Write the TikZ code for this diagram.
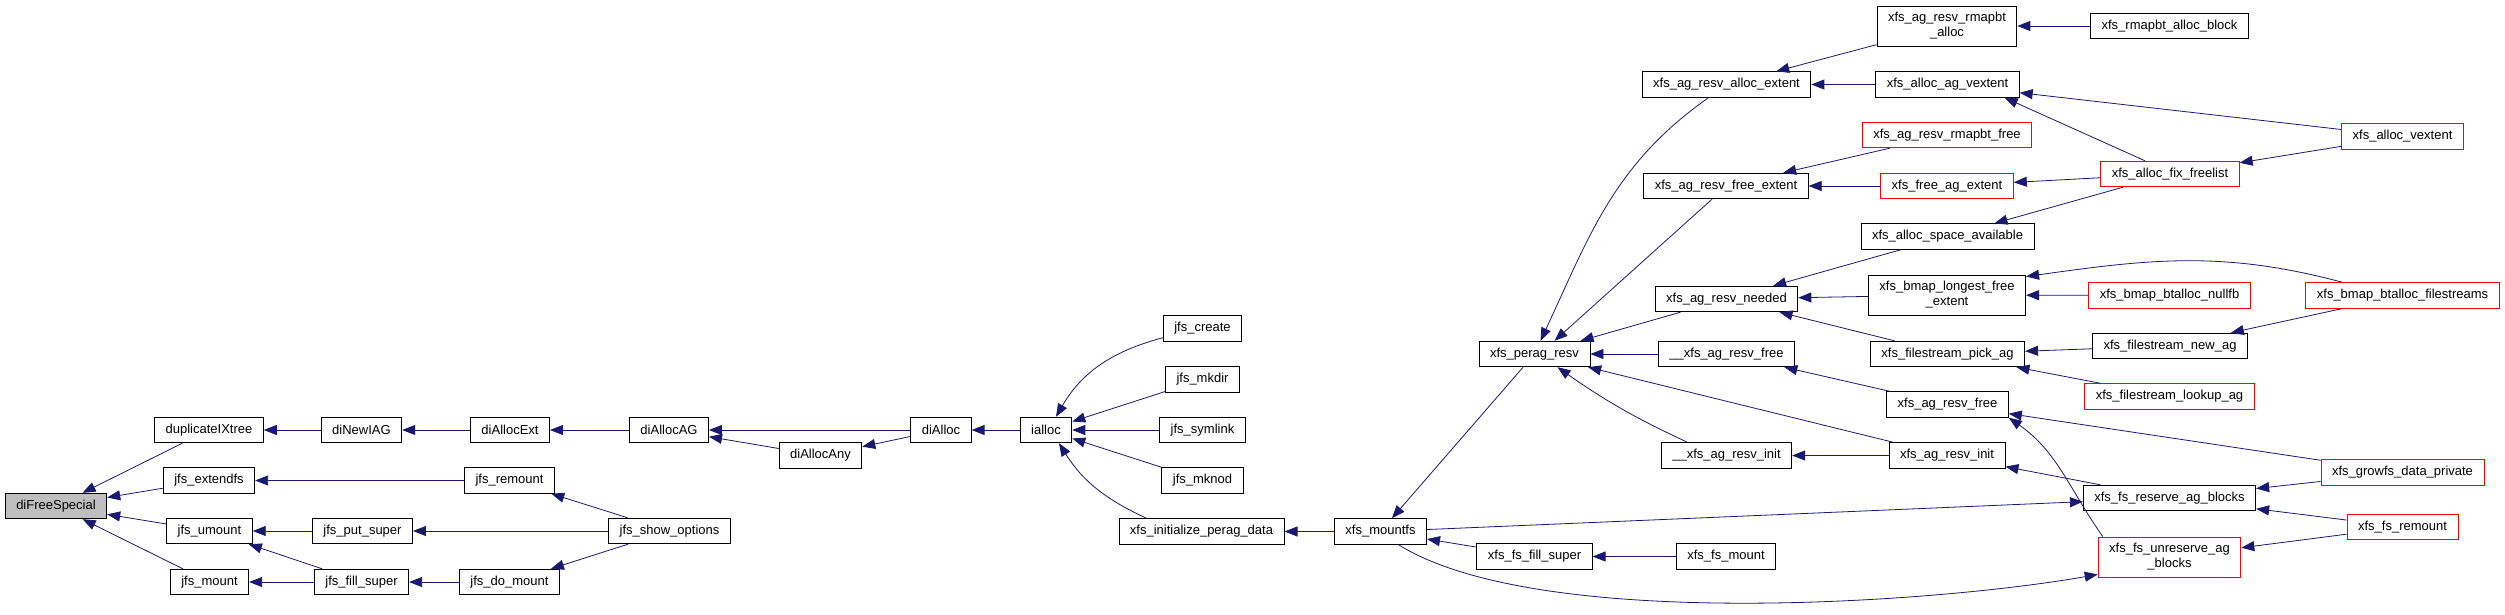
\documentclass[tikz,border=0pt]{standalone}
\usepackage{fontspec}
\setmainfont{Liberation Sans}
\usetikzlibrary{arrows.meta}

\definecolor{edgeblue}{HTML}{191970}
\definecolor{nodered}{HTML}{FF0000}
\definecolor{nodegray}{HTML}{BFBFBF}

\begin{document}
\begin{tikzpicture}[x=1pt, y=1pt]
  \tikzset{
    fn_node/.style={rectangle, draw=black, fill=white, line width=0.9pt, inner xsep=11pt, inner ysep=2pt, minimum height=25.5pt, font=\fontsize{13}{15}\selectfont},
    red_node/.style={fn_node, draw=nodered},
    gray_node/.style={fn_node, fill=nodegray},
    two_lines/.style={align=center, minimum height=40pt},
    call_edge/.style={draw=edgeblue, line width=0.8pt, {Triangle[length=13pt, width=10pt]}-}
  }

  % Fondo y caja
  \fill[white] (0,0) rectangle (2505,-615);
  \useasboundingbox (0,0) rectangle (2505,-615);

  % Nodo raiz
  \node[gray_node] (diFreeSpecial) at (56,-506) {diFreeSpecial};

  % Funciones jfs / diAlloc
  \node[fn_node] (duplicateIXtree) at (209,-430) {duplicateIXtree};
  \node[fn_node] (jfs_extendfs) at (209,-480.5) {jfs\_extendfs};
  \node[fn_node] (jfs_umount) at (209.5,-531) {jfs\_umount};
  \node[fn_node] (jfs_mount) at (209.5,-582) {jfs\_mount};
  \node[fn_node] (diNewIAG) at (361.5,-430) {diNewIAG};
  \node[fn_node] (jfs_put_super) at (362.5,-531) {jfs\_put\_super};
  \node[fn_node] (jfs_fill_super) at (361.5,-582) {jfs\_fill\_super};
  \node[fn_node] (diAllocExt) at (510,-430) {diAllocExt};
  \node[fn_node] (jfs_remount) at (509.5,-480.5) {jfs\_remount};
  \node[fn_node] (jfs_do_mount) at (509.5,-582) {jfs\_do\_mount};
  \node[fn_node] (diAllocAG) at (669,-430) {diAllocAG};
  \node[fn_node] (jfs_show_options) at (669.5,-531) {jfs\_show\_options};
  \node[fn_node] (diAllocAny) at (820.5,-455.5) {diAllocAny};
  \node[fn_node] (diAlloc) at (941,-430) {diAlloc};
  \node[fn_node] (ialloc) at (1046,-430) {ialloc};
  \node[fn_node] (jfs_create) at (1202.5,-328.5) {jfs\_create};
  \node[fn_node] (jfs_mkdir) at (1202.5,-379.5) {jfs\_mkdir};
  \node[fn_node] (jfs_symlink) at (1202.5,-430) {jfs\_symlink};
  \node[fn_node] (jfs_mknod) at (1202.5,-480.5) {jfs\_mknod};

  % Funciones xfs
  \node[fn_node] (xfs_initialize_perag_data) at (1201.5,-531.5) {xfs\_initialize\_perag\_data};
  \node[fn_node] (xfs_mountfs) at (1380.5,-531.5) {xfs\_mountfs};
  \node[fn_node] (xfs_perag_resv) at (1534.5,-354) {xfs\_perag\_resv};
  \node[fn_node] (xfs_fs_fill_super) at (1534.5,-556.5) {xfs\_fs\_fill\_super};
  \node[fn_node] (xfs_ag_resv_alloc_extent) at (1726.5,-84.5) {xfs\_ag\_resv\_alloc\_extent};
  \node[fn_node] (xfs_ag_resv_free_extent) at (1726,-186) {xfs\_ag\_resv\_free\_extent};
  \node[fn_node] (xfs_ag_resv_needed) at (1726.5,-299) {xfs\_ag\_resv\_needed};
  \node[fn_node] (ag_resv_free_int) at (1726.5,-354) {\_\_xfs\_ag\_resv\_free};
  \node[fn_node] (ag_resv_init_int) at (1726.5,-455.5) {\_\_xfs\_ag\_resv\_init};
  \node[fn_node] (xfs_fs_mount) at (1726,-556.5) {xfs\_fs\_mount};
  \node[fn_node, two_lines] (xfs_ag_resv_rmapbt_alloc) at (1947,-26) {xfs\_ag\_resv\_rmapbt\\\_alloc};
  \node[fn_node] (xfs_alloc_ag_vextent) at (1947.5,-84.5) {xfs\_alloc\_ag\_vextent};
  \node[red_node] (xfs_ag_resv_rmapbt_free) at (1947,-135) {xfs\_ag\_resv\_rmapbt\_free};
  \node[red_node] (xfs_free_ag_extent) at (1947,-186) {xfs\_free\_ag\_extent};
  \node[fn_node] (xfs_alloc_space_available) at (1947.5,-236.5) {xfs\_alloc\_space\_available};
  \node[fn_node, two_lines] (xfs_bmap_longest_free_extent) at (1947,-295) {xfs\_bmap\_longest\_free\\\_extent};
  \node[fn_node] (xfs_filestream_pick_ag) at (1947.5,-354) {xfs\_filestream\_pick\_ag};
  \node[fn_node] (xfs_ag_resv_free) at (1947.5,-404.5) {xfs\_ag\_resv\_free};
  \node[fn_node] (xfs_ag_resv_init) at (1947,-455.5) {xfs\_ag\_resv\_init};
  \node[fn_node] (xfs_rmapbt_alloc_block) at (2169.5,-26) {xfs\_rmapbt\_alloc\_block};
  \node[red_node] (xfs_alloc_fix_freelist) at (2170,-174) {xfs\_alloc\_fix\_freelist};
  \node[red_node] (xfs_bmap_btalloc_nullfb) at (2169.5,-295.5) {xfs\_bmap\_btalloc\_nullfb};
  \node[fn_node] (xfs_filestream_new_ag) at (2170,-346) {xfs\_filestream\_new\_ag};
  \node[red_node] (xfs_filestream_lookup_ag) at (2169.5,-396.5) {xfs\_filestream\_lookup\_ag};
  \node[fn_node] (xfs_fs_reserve_ag_blocks) at (2169.5,-498) {xfs\_fs\_reserve\_ag\_blocks};
  \node[red_node, two_lines] (xfs_fs_unreserve_ag_blocks) at (2169.5,-557) {xfs\_fs\_unreserve\_ag\\\_blocks};
  \node[red_node] (xfs_alloc_vextent) at (2402.5,-136.5) {xfs\_alloc\_vextent};
  \node[red_node] (xfs_bmap_btalloc_filestreams) at (2402.5,-295.5) {xfs\_bmap\_btalloc\_filestreams};
  \node[red_node] (xfs_growfs_data_private) at (2402.5,-472.5) {xfs\_growfs\_data\_private};
  \node[red_node] (xfs_fs_remount) at (2402.5,-527) {xfs\_fs\_remount};

  % Llamadas jfs
  \draw[call_edge] (diFreeSpecial) -- (duplicateIXtree);
  \draw[call_edge] (diFreeSpecial) -- (jfs_extendfs);
  \draw[call_edge] (diFreeSpecial) -- (jfs_umount);
  \draw[call_edge] (diFreeSpecial) -- (jfs_mount);
  \draw[call_edge] (duplicateIXtree) -- (diNewIAG);
  \draw[call_edge] (jfs_extendfs) -- (jfs_remount);
  \draw[call_edge] (jfs_umount) -- (jfs_put_super);
  \draw[call_edge] (jfs_umount) -- (jfs_fill_super);
  \draw[call_edge] (jfs_mount) -- (jfs_fill_super);
  \draw[call_edge] (diNewIAG) -- (diAllocExt);
  \draw[call_edge] (jfs_remount) -- (jfs_show_options);
  \draw[call_edge] (jfs_put_super) -- (jfs_show_options);
  \draw[call_edge] (jfs_fill_super) -- (jfs_do_mount);
  \draw[call_edge] (jfs_do_mount) -- (jfs_show_options);
  \draw[call_edge] (diAllocExt) -- (diAllocAG);
  \draw[call_edge] (diAllocAG) -- (diAlloc);
  \draw[call_edge] (diAllocAG) -- (diAllocAny);
  \draw[call_edge] (diAllocAny) -- (diAlloc);
  \draw[call_edge] (diAlloc) -- (ialloc);
  \draw[call_edge] ([xshift=10pt]ialloc.north) to[out=60, in=195] ([yshift=4pt]jfs_create.south west);
  \draw[call_edge] (ialloc) -- (jfs_mkdir);
  \draw[call_edge] (ialloc) -- (jfs_symlink);
  \draw[call_edge] (ialloc) -- (jfs_mknod);
  \draw[call_edge] ([xshift=13pt]ialloc.south) to[out=-58, in=155] ([xshift=28pt]xfs_initialize_perag_data.north west);

  % Llamadas xfs
  \draw[call_edge] (xfs_initialize_perag_data) -- (xfs_mountfs);
  \draw[call_edge] (xfs_mountfs) -- (xfs_perag_resv);
  \draw[call_edge] (xfs_mountfs) -- (xfs_fs_fill_super);
  \draw[call_edge] (xfs_fs_fill_super) -- (xfs_fs_mount);
  \draw[call_edge] (xfs_fs_reserve_ag_blocks) -- (xfs_mountfs);
  \draw[call_edge] ([yshift=3pt]xfs_fs_unreserve_ag_blocks.south west) to[out=190, in=-32, looseness=0.6] ([xshift=18pt]xfs_mountfs.south);
  \draw[call_edge] ([xshift=6pt]xfs_perag_resv.north) to[out=65, in=-145] ([xshift=-18pt]xfs_ag_resv_alloc_extent.south);
  \draw[call_edge] ([xshift=20pt]xfs_perag_resv.north) -- ([xshift=-14pt]xfs_ag_resv_free_extent.south);
  \draw[call_edge] (xfs_perag_resv) -- (xfs_ag_resv_needed);
  \draw[call_edge] (xfs_perag_resv) -- (ag_resv_free_int);
  \draw[call_edge] (xfs_perag_resv) -- (xfs_ag_resv_init);
  \draw[call_edge] ([xshift=23pt]xfs_perag_resv.south) to[out=-35, in=155] ([xshift=-39pt]ag_resv_init_int.north);
  \draw[call_edge] (xfs_ag_resv_alloc_extent) -- (xfs_ag_resv_rmapbt_alloc);
  \draw[call_edge] (xfs_ag_resv_alloc_extent) -- (xfs_alloc_ag_vextent);
  \draw[call_edge] (xfs_ag_resv_free_extent) -- (xfs_ag_resv_rmapbt_free);
  \draw[call_edge] (xfs_ag_resv_free_extent) -- (xfs_free_ag_extent);
  \draw[call_edge] (xfs_ag_resv_needed) -- (xfs_alloc_space_available);
  \draw[call_edge] (xfs_ag_resv_needed) -- (xfs_bmap_longest_free_extent);
  \draw[call_edge] (xfs_ag_resv_needed) -- (xfs_filestream_pick_ag);
  \draw[call_edge] (ag_resv_free_int) -- (xfs_ag_resv_free);
  \draw[call_edge] (ag_resv_init_int) -- (xfs_ag_resv_init);
  \draw[call_edge] (xfs_ag_resv_rmapbt_alloc) -- (xfs_rmapbt_alloc_block);
  \draw[call_edge] (xfs_alloc_ag_vextent) -- (xfs_alloc_vextent);
  \draw[call_edge] ([xshift=-15pt]xfs_alloc_ag_vextent.south east) -- ([xshift=-25pt]xfs_alloc_fix_freelist.north);
  \draw[call_edge] (xfs_free_ag_extent) -- (xfs_alloc_fix_freelist);
  \draw[call_edge] (xfs_alloc_space_available) -- (xfs_alloc_fix_freelist);
  \draw[call_edge] (xfs_alloc_fix_freelist) -- (xfs_alloc_vextent);
  \draw[call_edge] ([yshift=-2pt]xfs_bmap_longest_free_extent.north east) to[out=8, in=165] ([xshift=-60pt]xfs_bmap_btalloc_filestreams.north);
  \draw[call_edge] (xfs_bmap_longest_free_extent) -- (xfs_bmap_btalloc_nullfb);
  \draw[call_edge] (xfs_filestream_pick_ag) -- (xfs_filestream_new_ag);
  \draw[call_edge] (xfs_filestream_pick_ag) -- (xfs_filestream_lookup_ag);
  \draw[call_edge] (xfs_filestream_new_ag) -- (xfs_bmap_btalloc_filestreams);
  \draw[call_edge] (xfs_ag_resv_free) -- (xfs_growfs_data_private);
  \draw[call_edge] (xfs_ag_resv_free.south east) to[out=-35, in=125] ([xshift=5pt]xfs_fs_unreserve_ag_blocks.north west);
  \draw[call_edge] (xfs_ag_resv_init) -- (xfs_fs_reserve_ag_blocks);
  \draw[call_edge] (xfs_fs_reserve_ag_blocks) -- (xfs_growfs_data_private);
  \draw[call_edge] (xfs_fs_reserve_ag_blocks) -- (xfs_fs_remount);
  \draw[call_edge] (xfs_fs_unreserve_ag_blocks) -- (xfs_fs_remount);
\end{tikzpicture}
\end{document}
